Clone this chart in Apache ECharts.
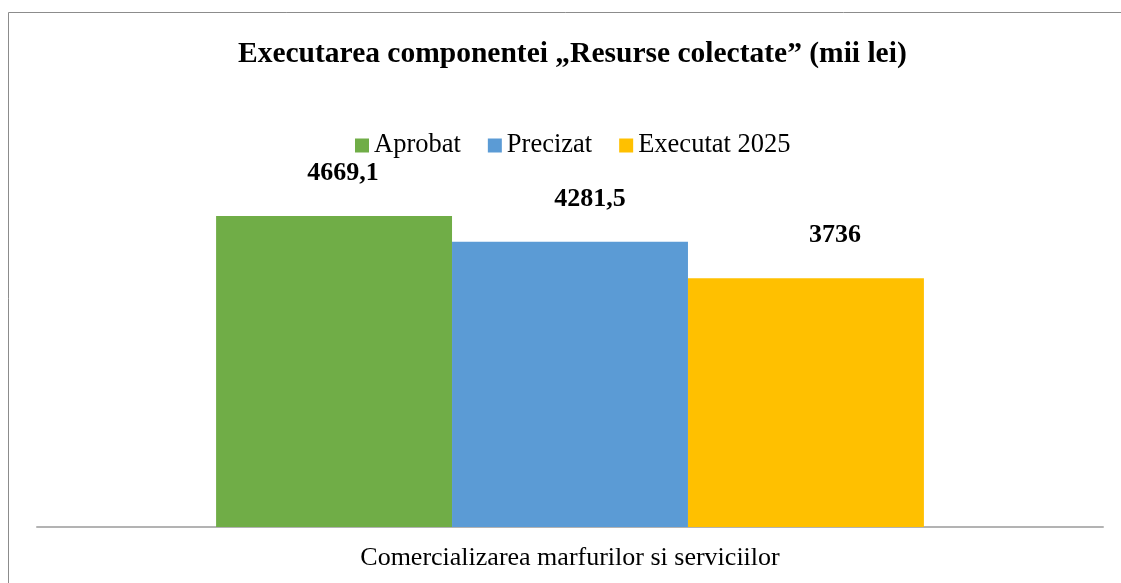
<!DOCTYPE html>
<html>
<head>
<meta charset="utf-8">
<script src="https://cdn.jsdelivr.net/npm/echarts@6/dist/echarts.min.js"></script>
<style>
html,body{margin:0;padding:0;background:#fff;}
#c{width:1121px;height:583px;}
</style>
</head>
<body>
<div id="c"></div>
<script>
var categories = ['Comercializarea marfurilor si serviciilor'];
var seriesNames = ['Aprobat', 'Precizat', 'Executat 2025'];
var aprobat = [4669.1];
var precizat = [4281.5];
var executat = [3736];
var colors = ['#70AD47', '#5B9BD5', '#FFC000'];
var labelDx = [9, 20, 29];

var font = '"Liberation Serif", "Times New Roman", serif';
function fmt(p){ return String(p.value).replace('.', ','); }

var chart = echarts.init(document.getElementById('c'), null, {renderer:'canvas'});
var dataSets = [aprobat, precizat, executat];
var series = dataSets.map(function(d, i){
  return {
    name: seriesNames[i],
    type: 'bar',
    data: d,
    barGap: '0%',
    barCategoryGap: '33.6%',
    itemStyle: {color: colors[i]},
    label: {
      show: true,
      position: 'top',
      distance: 0,
      offset: [labelDx[i], -30],
      formatter: fmt,
      fontFamily: font,
      fontWeight: 'bold',
      fontSize: 26,
      color: '#000'
    }
  };
});

chart.setOption({
  animation: false,
  backgroundColor: '#fff',
  title: {
    text: 'Executarea componentei „Resurse colectate” (mii lei)',
    left: 233,
    top: 34,
    textStyle: {fontFamily: font, fontWeight: 'bold', fontSize: 29.5, color: '#000'}
  },
  legend: {
    data: seriesNames,
    left: 350,
    top: 127,
    itemWidth: 14,
    itemHeight: 14,
    itemGap: 27,
    icon: 'rect',
    textStyle: {fontFamily: font, fontSize: 26.5, color: '#000'}
  },
  grid: {left: 37, right: 18, top: 194, bottom: 56, containLabel: false},
  xAxis: {
    type: 'category',
    data: categories,
    axisLine: {lineStyle: {color: '#b3b3b3', width: 2}},
    axisTick: {show: false},
    axisLabel: {fontFamily: font, fontSize: 26, color: '#000', margin: 18}
  },
  yAxis: {
    type: 'value',
    min: 0,
    max: 5000,
    show: false,
    splitLine: {show: false}
  },
  graphic: [{
    type: 'rect',
    shape: {x: 8.5, y: 12.5, width: 1200, height: 700},
    style: {fill: 'none', stroke: '#8c8c8c', lineWidth: 1},
    silent: true,
    z: 100
  }],
  series: series
});
</script>
</body>
</html>
